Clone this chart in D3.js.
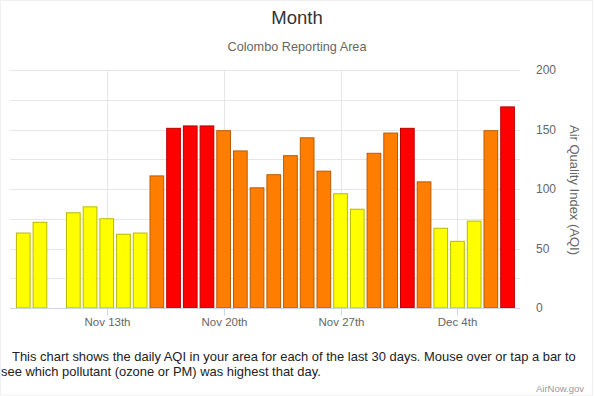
<!DOCTYPE html>
<html>
<head>
<meta charset="utf-8">
<script src="https://cdn.jsdelivr.net/npm/d3@7"></script>
<style>
  body { margin: 0; background: #fff; }
  svg { display: block; font-family: "Liberation Sans", Arial, sans-serif; }
</style>
</head>
<body>
<div id="chart"></div>
<script>
// daily AQI, Nov 8 .. Dec 7 (Nov 10 has no data)
const days = [
  "2017-11-08", "2017-11-09", "2017-11-10", "2017-11-11", "2017-11-12", "2017-11-13",
  "2017-11-14", "2017-11-15", "2017-11-16", "2017-11-17", "2017-11-18", "2017-11-19",
  "2017-11-20", "2017-11-21", "2017-11-22", "2017-11-23", "2017-11-24", "2017-11-25",
  "2017-11-26", "2017-11-27", "2017-11-28", "2017-11-29", "2017-11-30", "2017-12-01",
  "2017-12-02", "2017-12-03", "2017-12-04", "2017-12-05", "2017-12-06", "2017-12-07"
];
const aqi = [
  63, 72, null, 80, 85, 75,
  62, 63, 111, 151, 153, 153,
  149, 132, 101, 112, 128, 143,
  115, 96, 83, 130, 147, 151,
  106, 67, 56, 73, 149, 169
];
const tickDays = ["2017-11-13", "2017-11-20", "2017-11-27", "2017-12-04"];
const tickLabels = ["Nov 13th", "Nov 20th", "Nov 27th", "Dec 4th"];
const yTicks = [0, 50, 100, 150, 200];
const yGrid = [0, 25, 50, 75, 100, 125, 150, 175, 200];
const aqiBreaks = [51, 101, 151];
const aqiColors = ["#00e400", "#ffff00", "#ff7e00", "#ff0000"];

const width = 594;
const height = 396;
const plot = { left: 10, right: 520, top: 70, bottom: 308 };

const parse = d3.utcParse("%Y-%m-%d");
const data = days.map((d, i) => ({ date: parse(d), value: aqi[i] }));

const svg = d3.select("#chart")
  .append("svg")
  .attr("width", width)
  .attr("height", height);

svg.append("rect")
  .attr("x", 0.5).attr("y", 0.5)
  .attr("width", width - 2).attr("height", height - 1.5)
  .attr("fill", "#fff")
  .attr("stroke", "#f0f0f0");

// half a day of padding each side
const x = d3.scaleUtc()
  .domain([d3.utcHour.offset(data[0].date, -12), d3.utcHour.offset(data[data.length - 1].date, 12)])
  .range([14.9, 515.9]);
const slot = x(parse("2017-11-09")) - x(parse("2017-11-08"));
const barW = slot * 0.82;

const y = d3.scaleLinear().domain([0, 200]).range([plot.bottom, plot.top]);

const color = d3.scaleThreshold().domain(aqiBreaks).range(aqiColors);

// grid
svg.append("g")
  .selectAll("line")
  .data(yGrid)
  .join("line")
  .attr("x1", plot.left).attr("x2", plot.right)
  .attr("y1", d => Math.round(y(d)) + 0.5).attr("y2", d => Math.round(y(d)) + 0.5)
  .attr("stroke", "#e6e6e6");

svg.append("g")
  .selectAll("line")
  .data(tickDays)
  .join("line")
  .attr("x1", d => Math.round(x(parse(d))) + 0.5).attr("x2", d => Math.round(x(parse(d))) + 0.5)
  .attr("y1", plot.top).attr("y2", plot.bottom)
  .attr("stroke", "#e6e6e6");

// bars
svg.append("g")
  .selectAll("rect")
  .data(data.filter(d => d.value != null))
  .join("rect")
  .attr("x", d => x(d.date) - barW / 2)
  .attr("y", d => y(d.value))
  .attr("width", barW)
  .attr("height", d => y(0) - y(d.value))
  .attr("fill", d => color(d.value))
  .attr("stroke", d => d3.color(color(d.value)).darker(0.9))
  .attr("stroke-width", 1);

// x axis
const xAxis = svg.append("g")
  .attr("transform", `translate(0,${plot.bottom + 0.5})`);
xAxis.append("line")
  .attr("x1", plot.left).attr("x2", plot.right)
  .attr("stroke", "#ccd6eb");
const xt = xAxis.selectAll(".tick")
  .data(tickDays)
  .join("g")
  .attr("class", "tick")
  .attr("transform", d => `translate(${Math.round(x(parse(d))) + 0.5},0)`);
xt.append("line").attr("y2", 7).attr("stroke", "#ccd6eb");
xt.append("text")
  .attr("y", 17.5)
  .attr("text-anchor", "middle")
  .attr("font-size", "11.5px")
  .attr("fill", "#666")
  .text((d, i) => tickLabels[i]);

// y axis on the right
svg.append("g")
  .selectAll("text")
  .data(yTicks)
  .join("text")
  .attr("x", 536)
  .attr("y", d => y(d) + 4)
  .attr("font-size", "12px")
  .attr("fill", "#666")
  .text(d => d);

svg.append("text")
  .attr("transform", `translate(570,${(plot.top + plot.bottom) / 2 + 1}) rotate(90)`)
  .attr("text-anchor", "middle")
  .attr("font-size", "13px")
  .attr("fill", "#666")
  .text("Air Quality Index (AQI)");

// titles
svg.append("text")
  .attr("x", width / 2).attr("y", 23.5)
  .attr("text-anchor", "middle")
  .attr("font-size", "18.5px")
  .attr("fill", "#333")
  .text("Month");

svg.append("text")
  .attr("x", width / 2).attr("y", 51)
  .attr("text-anchor", "middle")
  .attr("font-size", "12.7px")
  .attr("fill", "#666")
  .text("Colombo Reporting Area");

// caption
svg.append("text")
  .attr("x", 12).attr("y", 361)
  .attr("font-size", "12.95px")
  .attr("fill", "#222")
  .text("This chart shows the daily AQI in your area for each of the last 30 days. Mouse over or tap a bar to");
svg.append("text")
  .attr("x", 1).attr("y", 375.5)
  .attr("font-size", "12.95px")
  .attr("fill", "#222")
  .text("see which pollutant (ozone or PM) was highest that day.");

svg.append("text")
  .attr("x", 584).attr("y", 392)
  .attr("text-anchor", "end")
  .attr("font-size", "9.5px")
  .attr("fill", "#999")
  .text("AirNow.gov");
</script>
</body>
</html>
